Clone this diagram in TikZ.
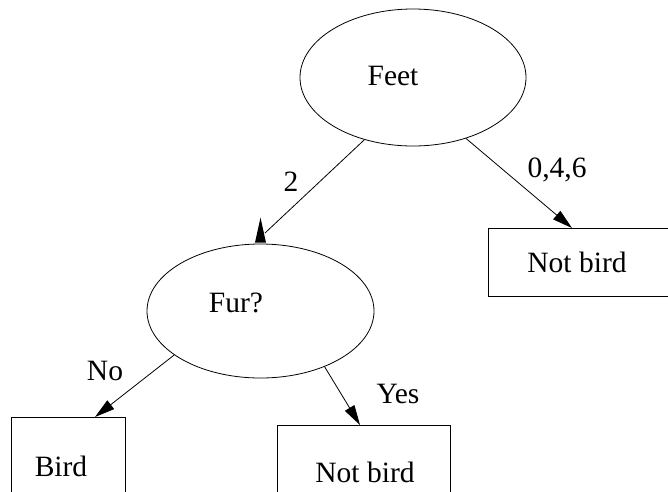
\documentclass[tikz,border=0pt]{standalone}
\usepackage{fontspec}
\setmainfont{Liberation Serif}
\usetikzlibrary{arrows.meta,calc,shapes.geometric}
\begin{document}
\begin{tikzpicture}[x=1pt,y=-1pt,
  line width=0.8pt,
  oval/.style={draw,ellipse,inner sep=0pt},
  box/.style={draw,rectangle,inner sep=0pt,anchor=north west},
  txt/.style={inner sep=0pt,anchor=base,font=\fontsize{29.5}{35}\selectfont},
  conn/.style={-{Triangle[length=20pt,width=11pt]}}
]
\useasboundingbox (0,0) rectangle (668,491);
% shapes
\node[oval,minimum width=226pt,minimum height=137pt] (feet) at (413,77.5) {};
\node[oval,minimum width=227pt,minimum height=134pt] (fur) at (260.5,311) {};
\node[box,minimum width=230pt,minimum height=68pt] (nb1) at (488,228) {};
\node[box,minimum width=114pt,minimum height=120pt] (bird) at (11,417) {};
\node[box,minimum width=173pt,minimum height=120pt] (nb2) at (277,425) {};
% texts
\node[txt] (tfeet) at (393,85) {Feet};
\node[txt] (tfur) at (236,312) {Fur?};
\node[txt] (tnb1) at (577,272) {Not bird};
\node[txt] (tbird) at (61,476) {Bird};
\node[txt] (tnb2) at (365,482) {Not bird};
\node[txt] (l2) at (291,191) {2};
\node[txt] (l046) at (557,177) {0,4,6};
\node[txt] (lno) at (105,380) {No};
\node[txt] (lyes) at (398,403) {Yes};
% connectors
\coordinate (e2) at (265,233);
\draw (feet.232.75) -- (e2);
\fill ($(fur.north)+(0,-26)$) -- ($(fur.north)+(-5.5,-1)$) -- ($(fur.north)+(5.5,-1)$) -- cycle;
\draw[conn] (feet.311.7) -- ($(nb1.north west)+(84,0)$);
\draw[conn] (fur.207) -- ($(bird.north west)+(84,0)$);
\draw[conn] (fur.319) -- ($(nb2.north west)+(83,0)$);
\end{tikzpicture}
\end{document}
